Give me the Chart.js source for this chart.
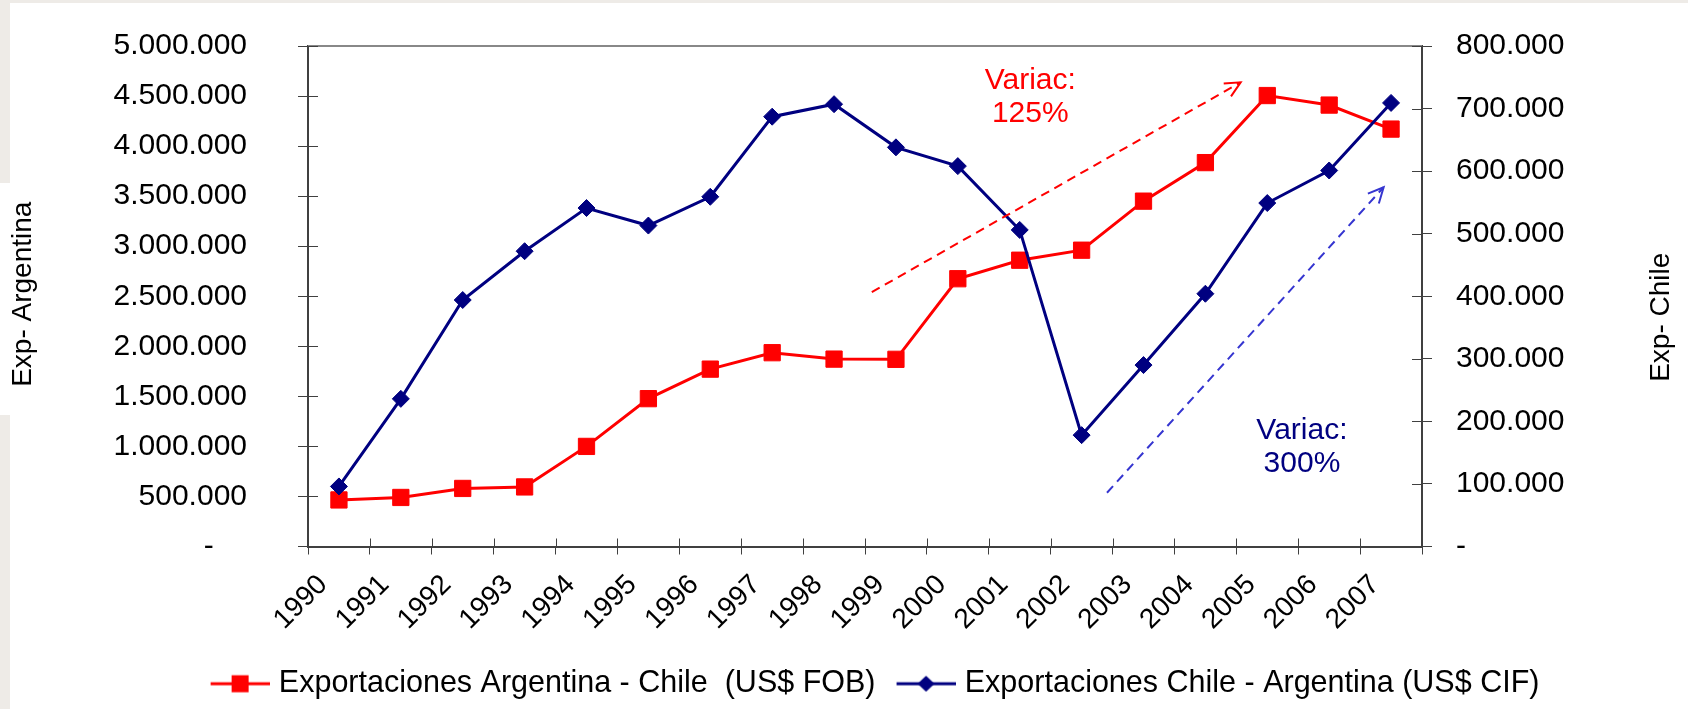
<!DOCTYPE html>
<html>
<head>
<meta charset="utf-8">
<script src="https://cdn.jsdelivr.net/npm/chart.js@4.4.1/dist/chart.umd.min.js"></script>
<style>
  html, body { margin: 0; padding: 0; }
  body { width: 1688px; height: 709px; background: #eeebe7; position: relative; overflow: hidden; }
  .hoja { position: absolute; background: #fff; }
  #marco { position: absolute; left: 0; top: 0; width: 1688px; height: 709px; }
</style>
</head>
<body>
<div class="hoja" style="left:10px;top:3px;width:1678px;height:706px"></div>
<div class="hoja" style="left:0;top:183px;width:10px;height:232px"></div>
<div id="marco"><canvas id="grafico"></canvas></div>
<script>
// Datos
const anios = ['1990', '1991', '1992', '1993', '1994', '1995', '1996', '1997', '1998',
               '1999', '2000', '2001', '2002', '2003', '2004', '2005', '2006', '2007'];
// Exportaciones Argentina - Chile (US$ FOB), eje izquierdo
const expArgentina = [465000, 490000, 580000, 595000, 1000000, 1477000, 1772000, 1936000, 1872000,
                      1870000, 2675000, 2860000, 2960000, 3450000, 3835000, 4505000, 4410000, 4170000];
// Exportaciones Chile - Argentina (US$ CIF), eje derecho
const expChile = [96000, 236000, 394000, 472000, 541000, 513000, 559000, 687000, 707000,
                  638000, 608000, 506000, 178000, 290000, 404000, 549000, 601000, 709000];
// Marcas de los ejes
const ticksIzq = [0, 500000, 1000000, 1500000, 2000000, 2500000, 3000000, 3500000, 4000000, 4500000, 5000000];
const ticksDer = [0, 100000, 200000, 300000, 400000, 500000, 600000, 700000, 800000];
// Textos
const tituloIzq = 'Exp- Argentina';
const tituloDer = 'Exp- Chile';
const nombreArg = 'Exportaciones Argentina - Chile  (US$ FOB)';
const nombreChi = 'Exportaciones Chile - Argentina (US$ CIF)';
// Flechas y notas (índice de año, valor en el eje izquierdo)
const flechas = [
  { desde: [8.61, 2541000], hasta: [14.57, 4637000], color: '#ff0000' },
  { desde: [12.41, 537000], hasta: [16.88, 3589000], color: '#3535d0' }
];
const notas = [
  { lineas: ['Variac:', '125%'], pos: [11.17, 4486000], color: '#ff0000' },
  { lineas: ['Variac:', '300%'], pos: [15.56, 988000], color: '#000080' }
];

const FUENTE = "'Liberation Sans', Arial, sans-serif";
const ROJO = '#ff0000';
const AZUL = '#000080';
const EJE = '#404040';

function formatoMiles(v) {
  return String(Math.round(v)).replace(/\B(?=(\d{3})+(?!\d))/g, '.');
}

// Icono de la leyenda: línea con su marcador
function iconoLeyenda(color, forma) {
  const c = document.createElement('canvas');
  c.width = 82; c.height = 20;
  const g = c.getContext('2d');
  g.strokeStyle = color; g.lineWidth = 3;
  g.beginPath(); g.moveTo(23, 10); g.lineTo(82, 10); g.stroke();
  g.fillStyle = color;
  if (forma === 'cuadrado') {
    g.fillRect(44, 1.5, 17, 17);
  } else {
    g.beginPath();
    g.moveTo(44, 10); g.lineTo(52.5, 2); g.lineTo(61, 10); g.lineTo(52.5, 18);
    g.closePath(); g.fill();
  }
  return c;
}
const iconos = [iconoLeyenda(ROJO, 'cuadrado'), iconoLeyenda(AZUL, 'rombo')];

function flecha(ctx, x1, y1, x2, y2, color) {
  ctx.save();
  ctx.strokeStyle = color;
  ctx.lineWidth = 2;
  ctx.setLineDash([9, 6]);
  ctx.beginPath(); ctx.moveTo(x1, y1); ctx.lineTo(x2, y2); ctx.stroke();
  ctx.setLineDash([]);
  const ang = Math.atan2(y2 - y1, x2 - x1);
  const largo = 17, abre = 0.45;
  ctx.beginPath();
  ctx.moveTo(x2 - largo * Math.cos(ang - abre), y2 - largo * Math.sin(ang - abre));
  ctx.lineTo(x2, y2);
  ctx.lineTo(x2 - largo * Math.cos(ang + abre), y2 - largo * Math.sin(ang + abre));
  ctx.stroke();
  ctx.restore();
}

// Extras: borde superior, marcas hacia dentro, flechas, notas y títulos de ejes
const extras = {
  id: 'extras',
  afterDraw(chart) {
    const { ctx, chartArea: a, scales } = chart;
    const x = scales.x, y = scales.y, y1 = scales.y1;
    ctx.save();
    ctx.strokeStyle = '#888';
    ctx.lineWidth = 2;
    ctx.beginPath(); ctx.moveTo(a.left, a.top); ctx.lineTo(a.right, a.top); ctx.stroke();

    ctx.strokeStyle = EJE;
    ctx.lineWidth = 1;
    ctx.beginPath();
    ticksIzq.forEach(v => { const p = Math.round(y.getPixelForValue(v)) + 0.5; ctx.moveTo(a.left, p); ctx.lineTo(a.left + 10, p); });
    ticksDer.forEach(v => { const p = Math.round(y1.getPixelForValue(v)) + 0.5; ctx.moveTo(a.right, p); ctx.lineTo(a.right - 10, p); });
    for (let k = 0; k <= anios.length; k++) {
      const p = Math.round(x.getPixelForValue(k - 0.5)) + 0.5;
      ctx.moveTo(p, a.bottom); ctx.lineTo(p, a.bottom - 8);
    }
    ctx.stroke();

    flechas.forEach(f => {
      flecha(ctx, x.getPixelForValue(f.desde[0]), y.getPixelForValue(f.desde[1]),
             x.getPixelForValue(f.hasta[0]), y.getPixelForValue(f.hasta[1]), f.color);
    });

    ctx.font = '30px ' + FUENTE;
    ctx.textAlign = 'center';
    ctx.textBaseline = 'middle';
    notas.forEach(n => {
      ctx.fillStyle = n.color;
      const cx = x.getPixelForValue(n.pos[0]), cy = y.getPixelForValue(n.pos[1]);
      n.lineas.forEach((t, i) => ctx.fillText(t, cx, cy + (i - (n.lineas.length - 1) / 2) * 33));
    });

    ctx.fillStyle = '#000';
    ctx.font = '28px ' + FUENTE;
    const medio = (a.top + a.bottom) / 2;
    [[tituloIzq, a.left - 285, medio - 2], [tituloDer, y1.right - 27, medio + 21]].forEach(([t, tx, ty]) => {
      ctx.save();
      ctx.translate(tx, ty);
      ctx.rotate(-Math.PI / 2);
      ctx.fillText(t, 0, 0);
      ctx.restore();
    });
    ctx.restore();
  }
};

function sinRelleno(s) {
  s.paddingTop = 0; s.paddingBottom = 0; s.paddingLeft = 0; s.paddingRight = 0;
}

new Chart(document.getElementById('grafico'), {
  type: 'line',
  data: {
    labels: anios,
    datasets: [
      {
        label: nombreArg,
        data: expArgentina,
        yAxisID: 'y',
        order: 1,
        borderColor: ROJO,
        backgroundColor: ROJO,
        borderWidth: 3,
        pointStyle: 'rect',
        pointRadius: 11.5,
        pointBorderWidth: 1,
        tension: 0
      },
      {
        label: nombreChi,
        data: expChile,
        yAxisID: 'y1',
        order: 0,
        borderColor: AZUL,
        backgroundColor: AZUL,
        borderWidth: 3,
        pointStyle: 'rectRot',
        pointRadius: 8.5,
        pointBorderWidth: 1,
        tension: 0
      }
    ]
  },
  options: {
    responsive: true,
    maintainAspectRatio: false,
    animation: false,
    layout: { padding: { left: 45, right: 0, top: 46, bottom: 0 } },
    font: { family: FUENTE },
    scales: {
      x: {
        offset: true,
        grid: { offset: true, drawOnChartArea: false, tickLength: 8, color: EJE },
        border: { color: EJE, width: 2 },
        ticks: {
          autoSkip: false, minRotation: 45, maxRotation: 45, padding: 14, labelOffset: -16,
          color: '#000', font: { size: 28, family: FUENTE }
        },
        afterFit(s) { s.height = 118; sinRelleno(s); }
      },
      y: {
        position: 'left',
        min: 0, max: 5000000,
        grid: { drawOnChartArea: false, tickLength: 10, color: EJE },
        border: { color: EJE, width: 2 },
        afterBuildTicks(s) { s.ticks = ticksIzq.map(v => ({ value: v })); },
        ticks: {
          padding: 51, color: '#000', font: { size: 30, family: FUENTE },
          callback: v => v === 0 ? '-    ' : formatoMiles(v)
        },
        afterFit(s) { s.width = 263; sinRelleno(s); }
      },
      y1: {
        position: 'right',
        min: 0, max: 800000,
        grid: { drawOnChartArea: false, tickLength: 10, color: EJE },
        border: { color: EJE, width: 2 },
        afterBuildTicks(s) { s.ticks = ticksDer.map(v => ({ value: v })); },
        ticks: {
          padding: 24, color: '#000', font: { size: 30, family: FUENTE },
          callback: v => v === 0 ? '-' : formatoMiles(v)
        },
        afterFit(s) { s.width = 266; sinRelleno(s); }
      }
    },
    plugins: {
      tooltip: { enabled: false },
      legend: {
        position: 'bottom',
        labels: {
          usePointStyle: true,
          pointStyleWidth: 70,
          padding: 4,
          color: '#000',
          font: { size: 30.5, family: FUENTE },
          generateLabels: chart => chart.data.datasets.map((ds, i) => ({
            text: ds.label,
            pointStyle: iconos[i],
            fillStyle: ds.borderColor,
            strokeStyle: ds.borderColor,
            lineWidth: 0,
            hidden: false,
            datasetIndex: i,
            fontColor: '#000'
          }))
        }
      }
    }
  },
  plugins: [extras]
});
</script>
</body>
</html>
